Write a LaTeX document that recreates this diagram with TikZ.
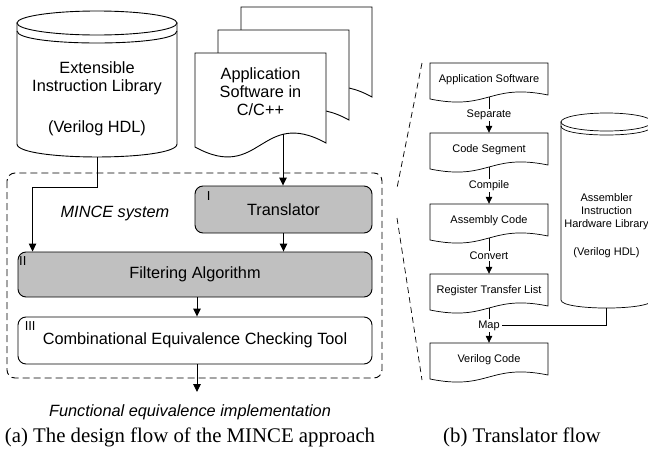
\documentclass[tikz,border=0pt]{standalone}
\usepackage{fontspec}
\setmainfont{Liberation Serif}
\newfontfamily\arialf{Liberation Sans}
\usetikzlibrary{arrows.meta,calc}
\definecolor{boxgray}{RGB}{192,192,192}
% document shape: x1, top, x2, y-left-bottom, y-right-bottom, wave strength
\newcommand{\docshape}[7][]{%
  \draw[#1] (#2,{#3}) -- (#4,{#3}) -- (#4,{#6})
    .. controls ({(#2+#4)/2},{(#5+#6)/2-#7}) and ({(#2+#4)/2},{(#5+#6)/2+#7}) .. (#2,{#5}) -- cycle;}
\newcommand{\flowdoc}[3]{%
  \docshape[thinln,fill=white]{430}{#2}{548}{#2+36}{#2+32}{14}
  \node[fdocnode] (#1) at (489,{#2+17}) {#3};}
\begin{document}
\begin{tikzpicture}[x=1pt,y=-1pt,
  big/.style={font=\arialf\fontsize{16.3}{18}\selectfont},
  bigit/.style={font=\arialf\itshape\fontsize{16.3}{18}\selectfont},
  numfont/.style={font=\arialf\fontsize{13}{15}\selectfont,anchor=north west,inner sep=0pt},
  small/.style={font=\arialf\fontsize{11}{13}\selectfont},
  ln/.style={line width=0.9pt},
  thinln/.style={line width=0.7pt},
  arr/.style={ln,-{Triangle[length=8pt,width=7.5pt]}},
  arr2/.style={thinln,-{Triangle[length=7pt,width=6.5pt]}},
  stage/.style={draw,ln,rounded corners=8pt,minimum width=354pt,minimum height=47pt,inner sep=0pt,big},
  fdocnode/.style={small,minimum width=118pt,minimum height=34pt,inner sep=0pt,text height=8pt,text depth=4pt},
  lbl/.style={small,fill=white,inner sep=1.5pt},
  dashbox/.style={ln,dash pattern=on 7pt off 4pt},
  dashln/.style={thinln,dash pattern=on 6pt off 4pt},
  caption/.style={font=\fontsize{20.8}{24}\selectfont}
]
\useasboundingbox (0,0) rectangle (648,450);

% ---------- left cylinder ----------
\draw[ln,fill=white] (17,23) -- (17,144) .. controls (17,161.3) and (177,161.3) .. (177,144) -- (177,23) -- cycle;
\draw[ln,fill=white] (97,23) ellipse [x radius=80,y radius=12];
\draw[ln] (17,31) .. controls (17,47) and (177,47) .. (177,31);

% ---------- document stack ----------
\docshape[ln,fill=white]{241}{7}{372}{101}{97}{38}
\docshape[ln,fill=white]{218}{30}{349}{124}{120}{38}
\docshape[ln,fill=white]{195}{53}{326}{147}{143}{38}

% ---------- MINCE system box ----------
\draw[dashbox,rounded corners=8pt] (7,173) rectangle (382,378);

% ---------- right cylinder ----------
\draw[thinln,fill=white] (561,122) -- (561,300) .. controls (561,310.7) and (652,310.7) .. (652,300) -- (652,122) -- cycle;
\draw[thinln,fill=white] (606.5,122) ellipse [x radius=45.5,y radius=9];
\draw[thinln] (561,126) .. controls (561,138) and (652,138) .. (652,126);

% ---------- zoom lines ----------
\draw[dashln] (422,63) -- (397,188);
\draw[dashln] (397,218) -- (422,380);

% ---------- translator flow documents ----------
\flowdoc{app2}{63}{Application Software}
\flowdoc{seg}{133}{Code Segment}
\flowdoc{asm}{204}{Assembly Code}
\flowdoc{rtl}{274}{Register Transfer List}
\flowdoc{vlog}{343}{Verilog Code}

% ---------- text nodes ----------
\node[big,align=center] (lib) at (97,99) {Extensible\\Instruction Library\\[23pt](Verilog HDL)};
\node[big,align=center] (appdoc) at (260.5,92) {Application\\Software in\\C/C++};
\node[small,align=center] (asmlib) at (606.5,226) {Assembler\\Instruction\\Hardware Library\\[15pt](Verilog HDL)};

\node[stage,fill=boxgray,minimum width=177pt] (trans) at (283.5,209.5) {Translator};
\node[stage,fill=boxgray,minimum height=45pt] (filt) at (195,274.5) {Filtering Algorithm};
\node[stage,fill=white] (cec) at (195,340.5) {Combinational Equivalence Checking Tool};

\node[numfont] (n1) at ([xshift=12pt,yshift=-5.5pt]trans.north west) {I};
\node[numfont] (n2) at ([xshift=1.5pt,yshift=-4.5pt]filt.north west) {II};
\node[numfont] (n3) at ([xshift=7pt,yshift=-4.5pt]cec.north west) {III};

\node[bigit] (mince) at (115,213) {MINCE system};
\node[bigit] (feq) at (190,412) {Functional equivalence implementation};
\node[caption] (capa) at (190,437) {(a) The design flow of the MINCE approach};
\node[caption] (capb) at (522,437) {(b) Translator flow};

% ---------- connector endpoints ----------
\coordinate (libout) at (97,157);
\coordinate (libturn) at (97,187);
\coordinate (appout) at (283,134);
\coordinate (out) at (197,392);
\coordinate (rcylout) at (606.5,308);

% ---------- connectors (left) ----------
\draw[arr] (libout) -- (libturn) -| ([xshift=15pt]filt.north west);
\draw[arr] (appout) -- (appout |- trans.north);
\draw[arr] (trans.south) -- (trans.south |- filt.north);
\draw[arr] ([xshift=2pt]filt.south) -- ([xshift=2pt]cec.north);
\draw[arr] ([xshift=2pt]cec.south) -- (out);

% ---------- connectors (right) ----------
\draw[arr2] (app2.south) -- node[lbl] (sep) {Separate} (seg.north);
\draw[arr2] (seg.south) -- node[lbl] (comp) {Compile} (asm.north);
\draw[arr2] (asm.south) -- node[lbl] (conv) {Convert} (rtl.north);
\draw[arr2] (rtl.south) -- node[lbl] (maplbl) {Map} (vlog.north);
\draw[thinln] (rcylout) |- (maplbl.east);
\end{tikzpicture}
\end{document}
